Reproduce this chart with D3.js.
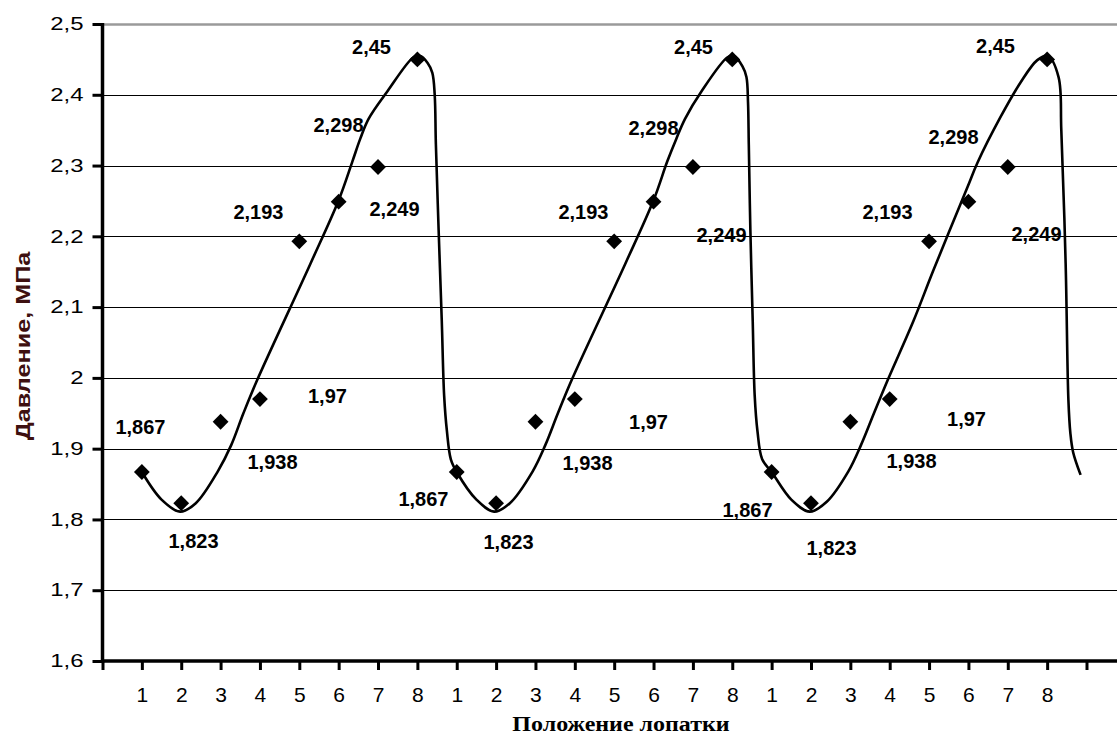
<!DOCTYPE html>
<html><head><meta charset="utf-8">
<script src="https://cdn.jsdelivr.net/npm/d3@7"></script>
<style>
body{margin:0;background:#fff}
</style>
</head><body><svg id="c" width="1117" height="738"></svg>
<script>
// ---- data ----
const positions = [1,2,3,4,5,6,7,8, 9,10,11,12,13,14,15,16, 17,18,19,20,21,22,23,24];
const pressure  = [1.867,1.823,1.938,1.97,2.193,2.249,2.298,2.45,
                   1.867,1.823,1.938,1.97,2.193,2.249,2.298,2.45,
                   1.867,1.823,1.938,1.97,2.193,2.249,2.298,2.45];
const xTickLabels = ["1","2","3","4","5","6","7","8","1","2","3","4","5","6","7","8","1","2","3","4","5","6","7","8"];
const yTicks = [1.6,1.7,1.8,1.9,2.0,2.1,2.2,2.3,2.4,2.5];
const yTickLabels = ["1,6","1,7","1,8","1,9","2","2,1","2,2","2,3","2,4","2,5"];
const labelText = ["1,867","1,823","1,938","1,97","2,193","2,249","2,298","2,45",
                   "1,867","1,823","1,938","1,97","2,193","2,249","2,298","2,45",
                   "1,867","1,823","1,938","1,97","2,193","2,249","2,298","2,45"];
// label anchor points (data units), as placed in the original
const labelX = [0.965,2.312,4.319,5.716,3.963,7.419,5.996,6.834,
                8.155,10.315,12.322,13.872,12.220,15.727,13.999,15.016,
                16.387,18.521,20.554,21.951,19.944,23.730,21.621,22.688];
const labelY = [1.931,1.770,1.881,1.974,2.234,2.239,2.357,2.468,
                1.829,1.768,1.880,1.938,2.234,2.202,2.354,2.468,
                1.813,1.760,1.883,1.942,2.234,2.203,2.340,2.469];
// smoothed curve
const curveX = [1.00,1.50,1.97,2.37,2.93,3.27,3.58,3.93,5.28,6.00,6.35,6.55,6.76,7.24,7.90,8.06,8.26,8.38,8.44,8.47,8.54,8.62,8.68,8.75,8.85,
                9.00,9.50,9.95,10.35,10.93,11.25,11.57,11.92,13.28,14.00,14.35,14.58,14.80,15.22,15.88,16.04,16.26,16.36,16.40,16.42,16.46,16.52,16.57,16.64,16.76,
                17.00,17.50,17.97,18.40,18.95,19.27,19.60,19.95,20.60,21.11,21.98,22.23,22.82,23.32,23.75,24.02,24.29,24.36,24.47,24.54,24.59,24.66,24.85];
const curveY = [1.867,1.828,1.811,1.823,1.868,1.905,1.950,1.997,2.161,2.251,2.306,2.338,2.366,2.405,2.453,2.455,2.445,2.431,2.400,2.330,2.209,2.080,1.975,1.925,1.885,
                1.867,1.828,1.811,1.823,1.868,1.905,1.950,1.997,2.161,2.251,2.306,2.338,2.366,2.405,2.453,2.455,2.440,2.425,2.390,2.330,2.209,2.080,1.975,1.925,1.885,
                1.867,1.828,1.811,1.825,1.868,1.905,1.950,1.997,2.080,2.152,2.270,2.304,2.369,2.417,2.449,2.455,2.425,2.350,2.162,1.969,1.922,1.895,1.863];

// ---- chart ----
const SANS = "'Liberation Sans',Arial,sans-serif";
const svg = d3.select("#c");
const x = d3.scaleLinear().domain([0,25]).range([102.5,1086.5]);
const y = d3.scaleLinear().domain([1.6,2.5]).range([661,24]);
const plotRight = 1117;

// gridlines
svg.append("g").selectAll("line").data(yTicks.filter(d=>d>1.6)).join("line")
  .attr("x1",x(0)).attr("x2",plotRight)
  .attr("y1",d=>Math.round(y(d))+0.5).attr("y2",d=>Math.round(y(d))+0.5)
  .attr("stroke",d=>d===2.5?"#9a9a9a":"#000")
  .attr("stroke-width",d=>d===2.5?2.5:1);

// y axis
const gy = svg.append("g").attr("transform",`translate(${x(0)},0)`)
  .call(d3.axisLeft(y).tickValues(yTicks).tickSize(10).tickPadding(10)
        .tickFormat((d,i)=>yTickLabels[i]));
gy.select(".domain").remove();
gy.selectAll(".tick line").attr("stroke","#000").attr("stroke-width",3);
gy.selectAll(".tick text").attr("x",0)
  .attr("transform","translate(-19,0) scale(1.33,1)")
  .style("font-family",SANS).style("font-size","18px").attr("fill","#000");
svg.append("line").attr("x1",x(0)).attr("x2",x(0)).attr("y1",y(2.5)-1).attr("y2",y(1.6)+2)
  .attr("stroke","#000").attr("stroke-width",3.5);

// x axis
const gx = svg.append("g").attr("transform",`translate(0,${y(1.6)})`)
  .call(d3.axisBottom(x).tickValues(d3.range(0,26)).tickSize(9).tickPadding(17)
        .tickFormat(d=> (d>=1 && d<=24) ? xTickLabels[d-1] : ""));
gx.select(".domain").remove();
gx.selectAll(".tick line").attr("stroke","#000").attr("stroke-width",3);
gx.selectAll(".tick text").style("font-family",SANS).style("font-size","21px").attr("fill","#000");
svg.append("line").attr("x1",x(0)-1).attr("x2",plotRight).attr("y1",y(1.6)).attr("y2",y(1.6))
  .attr("stroke","#000").attr("stroke-width",3.5);

// curve
const curvePts = curveX.map((cx,i)=>[cx,curveY[i]]);
svg.append("path").datum(curvePts)
  .attr("d",d3.line().x(d=>x(d[0])).y(d=>y(d[1])).curve(d3.curveCatmullRom.alpha(0.5)))
  .attr("fill","none").attr("stroke","#000").attr("stroke-width",2.6);

// markers
const diamond = d3.symbol().type(d3.symbolSquare).size(125);
svg.append("g").selectAll("path").data(positions).join("path")
  .attr("d",diamond)
  .attr("transform",(d,i)=>`translate(${x(d)},${y(pressure[i])}) rotate(45)`)
  .attr("fill","#000");

// data labels
svg.append("g").selectAll("text").data(labelText).join("text")
  .attr("x",(d,i)=>x(labelX[i])).attr("y",(d,i)=>y(labelY[i]))
  .attr("dy","0.36em").attr("text-anchor","middle")
  .style("font-family",SANS).style("font-size","20px").style("font-weight","bold")
  .attr("fill","#000")
  .text(d=>d);

// axis titles
svg.append("text").attr("transform","translate(30,346) rotate(-90) scale(1.2,1)")
  .attr("text-anchor","middle")
  .style("font-family",SANS).style("font-size","21px").style("font-weight","bold")
  .attr("fill","#3e1010").text("Давление, МПа");
svg.append("text").attr("transform","translate(621,731) scale(1.2,1)")
  .attr("text-anchor","middle")
  .style("font-family","'Liberation Serif','Times New Roman',serif")
  .style("font-size","20px").style("font-weight","bold")
  .attr("fill","#000").text("Положение лопатки");
</script>
</body></html>
